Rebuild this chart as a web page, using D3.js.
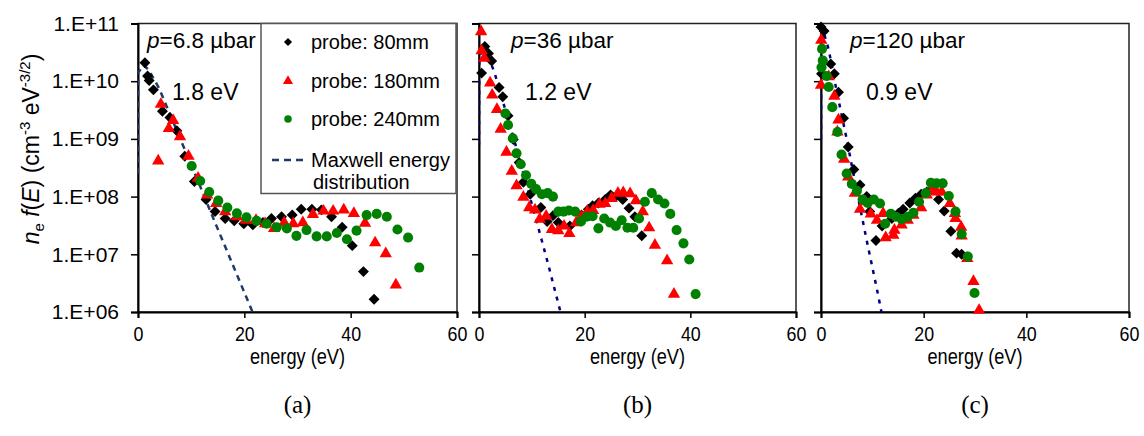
<!DOCTYPE html>
<html>
<head>
<meta charset="utf-8">
<script src="https://cdn.jsdelivr.net/npm/d3@7"></script>
<style>
  body { margin: 0; background: #fff; }
  text { font-family: "Liberation Sans", Arial, sans-serif; fill: #000; }
</style>
</head>
<body>
<svg id="chart"></svg>
<script>
// chart size
const width = 1144;
const height = 436;

// vertical extent of the three plot areas
const plotTop = 23.5;
const plotBottom = 312;

// tick values / labels
const xTicks = [0, 20, 40, 60];
const yTickValues = [1e6, 1e7, 1e8, 1e9, 1e10, 1e11];
const yTickLabels = ["1.E+06", "1.E+07", "1.E+08", "1.E+09", "1.E+10", "1.E+11"];

// series names (legend)
const seriesNames = ["probe: 80mm", "probe: 180mm", "probe: 240mm", "Maxwell energy", "distribution"];
const panelNames = ["(a)", "(b)", "(c)"];
const pressures = ["6.8", "36", "120"];
const temperatures = ["1.8 eV", "1.2 eV", "0.9 eV"];

// values: energy (eV) and log10 of n_e f(E)
// (a) p = 6.8 µbar
const a80E = [1.3, 1.8, 2.1, 2.9, 4.6, 6.0, 7.3, 8.8, 10.6, 12.8, 14.5, 16.4, 18.1, 19.9, 21.6, 23.5, 25.1, 27.0, 29.0, 30.7, 32.7, 34.5, 36.4, 38.4, 40.3, 42.4, 44.4];
const a80V = [10.32, 10.09, 10.01, 9.85, 9.48, 9.37, 9.14, 8.70, 8.26, 7.95, 7.74, 7.62, 7.58, 7.53, 7.51, 7.55, 7.62, 7.65, 7.68, 7.78, 7.78, 7.77, 7.65, 7.47, 7.15, 6.70, 6.22];
const a180E = [3.8, 4.3, 5.8, 6.6, 7.9, 9.5, 11.3, 13.0, 14.7, 16.4, 18.6, 20.3, 22.2, 23.9, 25.6, 27.5, 29.2, 31.0, 32.9, 34.9, 36.7, 38.7, 40.6, 42.7, 44.6, 46.6, 48.5];
const a180V = [8.62, 9.60, 9.18, 9.32, 9.04, 8.70, 8.32, 8.03, 7.88, 7.74, 7.65, 7.59, 7.59, 7.53, 7.45, 7.55, 7.53, 7.55, 7.69, 7.75, 7.75, 7.77, 7.71, 7.54, 7.20, 7.01, 6.47];
const a240E = [10.1, 11.7, 13.4, 15.1, 16.8, 18.6, 20.4, 22.3, 24.2, 26.1, 28.0, 29.8, 31.7, 33.6, 35.5, 37.4, 39.3, 41.1, 43.0, 44.9, 46.8, 48.8, 50.8, 52.9];
const a240V = [8.53, 8.27, 8.08, 7.93, 7.81, 7.71, 7.64, 7.58, 7.53, 7.47, 7.45, 7.32, 7.42, 7.31, 7.31, 7.37, 7.26, 7.41, 7.68, 7.70, 7.65, 7.43, 7.29, 6.77];
const aMaxE = [0, 0.05, 1, 2, 4, 6, 8, 10, 12, 14, 16, 18, 20, 22];
const aMaxV = [8.4, 10.15, 10.28, 10.2, 9.87, 9.43, 8.99, 8.55, 8.11, 7.66, 7.22, 6.78, 6.34, 5.9];

// (b) p = 36 µbar
const b80E = [0.5, 1.1, 1.8, 2.4, 3.8, 4.5, 5.5, 6.5, 7.6, 8.4, 9.7, 11.7, 12.9, 14.0, 15.0, 17.2, 19.4, 20.7, 21.5, 22.6, 23.9, 24.9, 25.9, 27.2, 28.4, 29.5, 30.8];
const b80V = [10.14, 10.60, 10.48, 10.35, 9.89, 9.73, 9.40, 8.99, 8.59, 8.25, 8.04, 7.81, 7.57, 7.67, 7.55, 7.49, 7.68, 7.78, 7.84, 7.89, 7.95, 8.03, 8.00, 7.95, 7.80, 7.65, 7.32];
const b180E = [0.4, 0.5, 1.0, 2.1, 2.5, 3.4, 4.1, 5.2, 6.2, 7.1, 8.4, 9.5, 10.6, 11.5, 12.7, 13.8, 15.0, 16.1, 17.1, 18.4, 19.4, 20.5, 21.6, 22.8, 23.9, 25.1, 26.3, 27.3, 28.6, 29.7, 31.0, 32.2, 33.3, 35.6, 36.9];
const b180V = [10.86, 10.53, 10.40, 9.97, 9.76, 9.51, 9.17, 8.77, 8.44, 8.19, 7.99, 7.81, 7.77, 7.61, 7.66, 7.43, 7.41, 7.49, 7.36, 7.55, 7.65, 7.74, 7.76, 7.87, 7.88, 7.97, 8.06, 8.07, 8.05, 7.93, 7.74, 7.46, 7.16, 6.89, 6.31];
const b240E = [5.0, 5.5, 6.4, 7.1, 7.9, 8.9, 9.9, 10.8, 11.9, 13.0, 14.0, 15.0, 16.0, 17.0, 18.2, 19.3, 20.4, 21.5, 22.6, 23.7, 24.8, 25.9, 27.0, 28.1, 29.2, 30.3, 31.4, 32.7, 33.9, 35.1, 36.2, 37.4, 38.7, 39.8, 41.0];
const b240V = [9.44, 9.24, 9.01, 8.75, 8.56, 8.37, 8.22, 8.13, 8.04, 8.06, 8.00, 7.74, 7.74, 7.76, 7.74, 7.57, 7.65, 7.66, 7.45, 7.62, 7.55, 7.49, 7.59, 7.46, 7.46, 7.62, 7.91, 8.06, 7.95, 7.88, 7.70, 7.42, 7.19, 6.91, 6.31];
const bMaxE = [0, 0.05, 0.6, 1.5, 3, 5, 7, 9, 11, 13, 15, 16];
const bMaxV = [8.9, 10.35, 10.6, 10.5, 10.13, 9.5, 8.87, 8.2, 7.54, 6.86, 6.15, 5.8];

// (c) p = 120 µbar
const c80E = [0.0, 0.6, 0.1, 1.9, 2.6, 3.4, 4.4, 5.3, 6.4, 7.6, 8.9, 9.5, 10.7, 11.9, 13.8, 15.1, 16.0, 17.3, 18.4, 19.5, 20.6, 21.7, 22.9, 24.0, 25.3, 26.4, 27.4];
const c80V = [10.94, 10.87, 10.13, 10.30, 10.13, 9.81, 9.36, 8.86, 8.47, 8.20, 8.00, 7.74, 7.24, 7.49, 7.62, 7.71, 7.78, 7.89, 7.97, 8.04, 8.08, 8.13, 7.95, 7.75, 7.40, 7.02, 7.00];
const c180E = [0.05, 0.0, 1.5, 2.6, 3.4, 3.2, 4.5, 5.3, 6.6, 7.6, 8.6, 9.7, 10.9, 12.1, 12.6, 14.1, 14.3, 15.7, 16.9, 18.0, 19.5, 20.6, 21.6, 22.5, 23.5, 25.1, 26.1, 26.2, 27.3, 27.4, 28.5, 29.7, 30.8];
const c180V = [10.71, 9.93, 10.08, 9.74, 9.33, 9.12, 8.65, 8.34, 8.06, 7.78, 7.91, 7.70, 7.59, 7.71, 7.29, 7.33, 7.42, 7.51, 7.59, 7.68, 7.81, 8.03, 8.11, 8.08, 8.08, 7.88, 7.71, 7.62, 7.47, 7.32, 6.93, 6.53, 6.03];
const c240E = [0.2, 0.35, 0.1, 1.1, 1.5, 2.2, 3.2, 4.0, 5.0, 6.0, 7.0, 8.1, 9.1, 10.3, 11.5, 12.5, 13.6, 14.6, 15.7, 16.9, 18.0, 19.1, 20.4, 21.4, 22.5, 23.7, 24.9, 26.2, 27.4, 28.6, 29.9];
const c240V = [10.56, 10.36, 10.24, 10.09, 9.90, 9.55, 9.12, 8.73, 8.40, 8.22, 8.10, 7.95, 7.89, 7.95, 7.88, 7.53, 7.70, 7.65, 7.61, 7.65, 7.72, 7.91, 8.06, 8.24, 8.23, 8.23, 8.01, 7.74, 7.35, 6.96, 6.33];
const cMaxE = [0, 0.05, 0.5, 1.5, 3, 5, 7, 9, 11, 12];
const cMaxV = [9.0, 10.6, 10.85, 10.55, 9.85, 9.0, 8.08, 7.2, 6.35, 5.9];

const zip = (E, V) => E.map((e, i) => [e, Math.pow(10, V[i])]);

// panel layout
const panels = [
  { x0: 138, x1: 457, pDx: 9, tDx: 34, yLabels: true, maxColor: "#1f3a68", maxDash: "6,5",
    s80: zip(a80E, a80V), s180: zip(a180E, a180V), s240: zip(a240E, a240V), max: zip(aMaxE, aMaxV) },
  { x0: 479, x1: 796, pDx: 32, tDx: 46, yLabels: false, maxColor: "#000080", maxDash: "4,6",
    s80: zip(b80E, b80V), s180: zip(b180E, b180V), s240: zip(b240E, b240V), max: zip(bMaxE, bMaxV) },
  { x0: 821, x1: 1129, pDx: 29, tDx: 45, yLabels: false, maxColor: "#000080", maxDash: "4,6",
    s80: zip(c80E, c80V), s180: zip(c180E, c180V), s240: zip(c240E, c240V), max: zip(cMaxE, cMaxV) }
];

const svg = d3.select("#chart").attr("width", width).attr("height", height);

const y = d3.scaleLog().domain([1e6, 1e11]).range([plotBottom, plotTop]);

const diamond = d3.symbol(d3.symbolSquare, 60);
const triangle = d3.symbol(d3.symbolTriangle, 66);
const circle = d3.symbol(d3.symbolCircle, 80);

panels.forEach((p, i) => {
  const x = d3.scaleLinear().domain([0, 60]).range([p.x0, p.x1]);
  const g = svg.append("g");

  // clip for the Maxwell line
  svg.append("clipPath").attr("id", "clip" + i)
    .append("rect").attr("x", p.x0).attr("y", plotTop)
    .attr("width", p.x1 - p.x0).attr("height", plotBottom - plotTop);

  // frame
  g.append("rect")
    .attr("x", p.x0).attr("y", plotTop)
    .attr("width", p.x1 - p.x0).attr("height", plotBottom - plotTop)
    .attr("fill", "#fff").attr("stroke", "#222").attr("stroke-width", 1.5);

  // axes
  const yAxis = d3.axisLeft(y).tickValues(yTickValues).tickSize(7).tickPadding(12)
    .tickFormat((d, k) => p.yLabels ? yTickLabels[k] : "");
  const ya = g.append("g").attr("transform", `translate(${p.x0},0)`).call(yAxis);

  const xAxis = d3.axisBottom(x).tickValues(xTicks).tickSize(6).tickPadding(8)
    .tickFormat(d3.format("d"));
  const xa = g.append("g").attr("transform", `translate(0,${plotBottom})`).call(xAxis);

  [ya, xa].forEach(a => {
    a.select(".domain").attr("stroke", "#000").attr("stroke-width", 2);
    a.selectAll(".tick line").attr("stroke", "#000").attr("stroke-width", 1.5);
    a.selectAll(".tick text").attr("font-size", 21).attr("font-family", "Liberation Sans, Arial, sans-serif").attr("fill", "#000");
  });
  // bottom labels look condensed in the original
  xa.selectAll(".tick text").attr("transform", "scale(0.85,1)");

  // axis title and panel label
  const cx = (p.x0 + p.x1) / 2;
  g.append("text").attr("x", cx).attr("y", 364).attr("text-anchor", "middle")
    .attr("font-size", 22).attr("textLength", 95).attr("lengthAdjust", "spacingAndGlyphs")
    .text("energy (eV)");
  g.append("text").attr("x", cx).attr("y", 413).attr("text-anchor", "middle")
    .style("font-family", "'Liberation Serif', 'Times New Roman', serif")
    .attr("font-size", 25).text(panelNames[i]);

  // Maxwell distribution line
  const line = d3.line().x(d => x(d[0])).y(d => y(d[1]));
  g.append("path").datum(p.max)
    .attr("clip-path", `url(#clip${i})`)
    .attr("d", line).attr("fill", "none")
    .attr("stroke", p.maxColor).attr("stroke-width", 2.5)
    .attr("stroke-dasharray", p.maxDash);

  // probe series
  g.append("g").selectAll("path").data(p.s80).join("path")
    .attr("d", diamond)
    .attr("transform", d => `translate(${x(d[0])},${y(d[1])}) rotate(45)`)
    .attr("fill", "#000");
  g.append("g").selectAll("path").data(p.s180).join("path")
    .attr("d", triangle)
    .attr("transform", d => `translate(${x(d[0])},${y(d[1])})`)
    .attr("fill", "#ff0000");
  g.append("g").selectAll("path").data(p.s240).join("path")
    .attr("d", circle)
    .attr("transform", d => `translate(${x(d[0])},${y(d[1])})`)
    .attr("fill", "#008000");

  // annotations
  const pt = g.append("text").attr("x", p.x0 + p.pDx).attr("y", 48).attr("font-size", 22.5);
  pt.append("tspan").attr("font-style", "italic").text("p");
  pt.append("tspan").text("=" + pressures[i] + " µbar");
  g.append("text").attr("x", p.x0 + p.tDx).attr("y", 100).attr("font-size", 23).text(temperatures[i]);
});

// legend in panel (a)
const lg = svg.append("g");
lg.append("rect").attr("x", 261).attr("y", plotTop).attr("width", 195).attr("height", 170)
  .attr("fill", "#fff").attr("stroke", "#555").attr("stroke-width", 1.5);
const rowsY = [42, 81, 119, 160];
lg.append("path").attr("d", d3.symbol(d3.symbolSquare, 34))
  .attr("transform", `translate(288,${rowsY[0]}) rotate(45)`).attr("fill", "#000");
lg.append("path").attr("d", d3.symbol(d3.symbolTriangle, 44))
  .attr("transform", `translate(288,${rowsY[1]})`).attr("fill", "#ff0000");
lg.append("path").attr("d", d3.symbol(d3.symbolCircle, 44))
  .attr("transform", `translate(288,${rowsY[2]})`).attr("fill", "#008000");
lg.append("line").attr("x1", 272).attr("x2", 306).attr("y1", rowsY[3]).attr("y2", rowsY[3])
  .attr("stroke", "#1f3a68").attr("stroke-width", 2.5).attr("stroke-dasharray", "7,5");
seriesNames.forEach((s, k) => {
  lg.append("text").attr("x", k < 4 ? 311 : 313)
    .attr("y", (k < 4 ? rowsY[k] : 182) + 7).attr("font-size", 20).text(s);
});

// y axis title
const yt = svg.append("text").attr("transform", "translate(39,149) rotate(-90)")
  .attr("text-anchor", "middle").attr("font-size", 23);
yt.append("tspan").attr("font-style", "italic").text("n");
yt.append("tspan").attr("font-size", 15).attr("dy", 5).text("e");
yt.append("tspan").attr("dy", -5).text(" ");
yt.append("tspan").attr("font-style", "italic").text("f");
yt.append("tspan").text("(");
yt.append("tspan").attr("font-style", "italic").text("E");
yt.append("tspan").text(") (cm");
yt.append("tspan").attr("font-size", 15).attr("dy", -9).text("-3");
yt.append("tspan").attr("dy", 9).text(" eV");
yt.append("tspan").attr("font-size", 15).attr("dy", -9).text("-3/2");
yt.append("tspan").attr("dy", 9).text(")");
</script>
</body>
</html>
